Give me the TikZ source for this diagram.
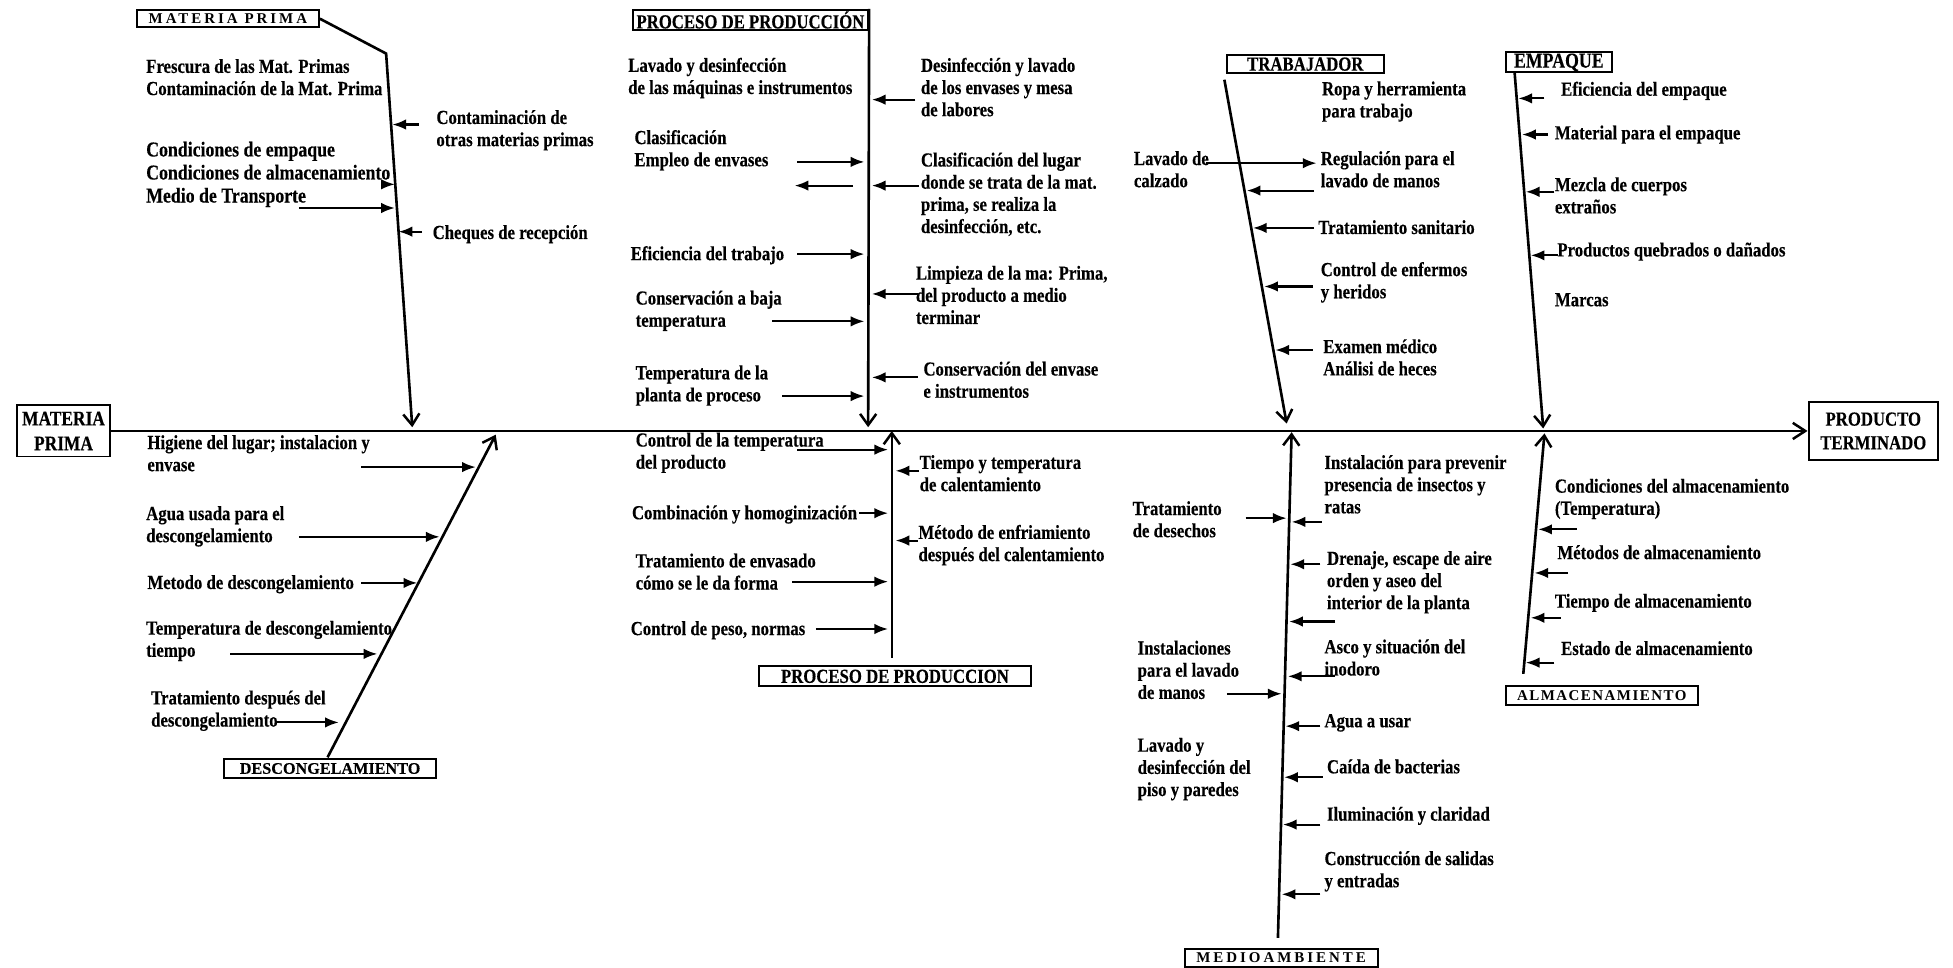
\documentclass[tikz,border=0pt]{standalone}
\usepackage{fontspec}
\newfontfamily\lf[FakeStretch=0.84, BoldFeatures={FakeBold=0.3}]{Liberation Serif}
\newfontfamily\nf[BoldFeatures={FakeBold=0.3}]{Liberation Serif}
\newfontfamily\lsf[LetterSpace=20]{Liberation Serif}
\newfontfamily\lsfb[LetterSpace=10]{Liberation Serif}
\usetikzlibrary{arrows.meta}
\begin{document}
\begin{tikzpicture}[x=0.5pt,y=-0.5pt,
  lbl/.style={anchor=north west, inner sep=0pt, align=left, yshift=4pt,
    font=\lf\bfseries\fontsize{8}{8.9}\selectfont, execute at begin node=\strut},
  biglbl/.style={lbl, yshift=4.3pt, font=\lf\bfseries\fontsize{8.5}{9.25}\selectfont},
  box/.style={draw, line width=0.8pt, inner sep=0pt, align=center},
  boxfont/.style={font=\lf\bfseries\fontsize{8}{9.5}\selectfont},
  spfont/.style={font=\lsf\bfseries\fontsize{6}{6.5}\selectfont},
  arr/.style={line width=0.85pt, -{Latex[length=5.5pt,width=4.2pt]}},
  bone/.style={line width=1.05pt, -{Straight Barb[length=4.5pt,width=6.5pt,line width=1pt]}},
  spine/.style={line width=1.05pt, -{Straight Barb[length=5pt,width=6.5pt,line width=1pt]}}
]
\useasboundingbox (0,0) rectangle (1568,777);

% ---------- main spine ----------
\node[box, font=\lf\bfseries\fontsize{8.3}{10}\selectfont, minimum width=37pt, minimum height=20.5pt] (mpL) at (51,346) {MATERIA\\PRIMA};
\node[box, boxfont, minimum width=52pt, minimum height=23pt] (pt) at (1504,346) {PRODUCTO\\TERMINADO};
\draw[spine] (mpL.east) -- (pt.west);

% ---------- MATERIA PRIMA (top) ----------
\node[box, spfont, minimum width=73pt, minimum height=7pt] (mpT) at (183,15) {MATERIA PRIMA};
\coordinate (b1k) at (310,43);
\coordinate (b1t) at (331,343);
\draw[bone] (mpT.east) -- (b1k) -- (b1t);
\node[lbl] (t11) at (117,55) {Frescura de las Mat. Primas\\Contaminación de la Mat. Prima};
\node[biglbl] (t12) at (117,130) {Condiciones de empaque\\Condiciones de almacenamiento\\Medio de Transporte};
\node[lbl] (t13) at (350,96) {Contaminación de\\otras materias primas};
\node[lbl] (t14) at (347,187) {Cheques de recepción};
\coordinate (a11s) at (308,148); \coordinate (a11e) at (317,148);
\coordinate (a12s) at (240,167); \coordinate (a12e) at (317,167);
\coordinate (a13s) at (336,100); \coordinate (a13e) at (315,100);
\coordinate (a14s) at (339,186); \coordinate (a14e) at (320,186);
\draw[arr] (a11s) -- (a11e);
\draw[arr] (a12s) -- (a12e);
\draw[arr] (a13s) -- (a13e);
\draw[arr] (a14s) -- (a14e);

% ---------- PROCESO DE PRODUCCION (top) ----------
\node[box, boxfont, minimum width=94.5pt, minimum height=8pt] (ppT) at (602.5,16) {PROCESO DE PRODUCCIÓN};
\coordinate (b2t) at (697,343);
\draw[bone] (ppT.north east) -- (b2t);
\node[lbl] (t21) at (504,54) {Lavado y desinfección\\de las máquinas e instrumentos};
\node[lbl] (t22) at (509,112) {Clasificación\\Empleo de envases};
\node[lbl] (t23) at (506,204) {Eficiencia del trabajo};
\node[lbl] (t24) at (510,241) {Conservación a baja\\temperatura};
\node[lbl] (t25) at (510,301) {Temperatura de la\\planta de proceso};
\node[lbl] (t26) at (739,54) {Desinfección y lavado\\de los envases y mesa\\de labores};
\node[lbl] (t27) at (739,130) {Clasificación del lugar\\donde se trata de la mat.\\prima, se realiza la\\desinfección, etc.};
\node[lbl] (t28) at (735,221) {Limpieza de la ma: Prima,\\del producto a medio\\terminar};
\node[lbl] (t29) at (741,298) {Conservación del envase\\e instrumentos};
\coordinate (a21s) at (640,130); \coordinate (a21e) at (694,130);
\coordinate (a22s) at (685,149); \coordinate (a22e) at (638,149);
\coordinate (a23s) at (640,204); \coordinate (a23e) at (694,204);
\coordinate (a24s) at (620,258); \coordinate (a24e) at (694,258);
\coordinate (a25s) at (628,318); \coordinate (a25e) at (694,318);
\coordinate (a26s) at (735,80);  \coordinate (a26e) at (700,80);
\coordinate (a27s) at (738,149); \coordinate (a27e) at (700,149);
\coordinate (a28s) at (737,236); \coordinate (a28e) at (700,236);
\coordinate (a29s) at (737,303); \coordinate (a29e) at (700,303);
\foreach \i in {21,...,29} {\draw[arr] (a\i s) -- (a\i e);}

% ---------- TRABAJADOR ----------
\node[box, boxfont, minimum width=63pt, minimum height=7.5pt] (trab) at (1048,51.5) {TRABAJADOR};
\coordinate (b3s) at (983,64);
\coordinate (b3t) at (1033,340);
\draw[bone] (b3s) -- (b3t);
\node[lbl] (t31) at (1061,73) {Ropa y herramienta\\para trabajo};
\node[lbl] (t32) at (910,129) {Lavado de\\calzado};
\node[lbl] (t33) at (1060,129) {Regulación para el\\lavado de manos};
\node[lbl] (t34) at (1058,183) {Tratamiento sanitario};
\node[lbl] (t35) at (1060,218) {Control de enfermos\\y heridos};
\node[lbl] (t36) at (1062,280) {Examen médico\\Análisi de heces};
\coordinate (a31s) at (968,131);  \coordinate (a31e) at (1057,131);
\coordinate (a32s) at (1055,153); \coordinate (a32e) at (1001,153);
\coordinate (a33s) at (1055,183); \coordinate (a33e) at (1006,183);
\coordinate (a34s) at (1054,230); \coordinate (a34e) at (1015,230);
\coordinate (a35s) at (1054,281); \coordinate (a35e) at (1024,281);
\foreach \i in {31,...,35} {\draw[arr] (a\i s) -- (a\i e);}

% ---------- EMPAQUE ----------
\node[box, font=\lf\bfseries\fontsize{8.5}{9.5}\selectfont, minimum width=42.5pt, minimum height=8pt] (emp) at (1251.5,50) {EMPAQUE};
\coordinate (b4s) at (1216,58);
\coordinate (b4t) at (1239,344);
\draw[bone] (b4s) -- (b4t);
\node[lbl] (t41) at (1253,72) {Eficiencia del empaque};
\node[lbl] (t42) at (1248,107) {Material para el empaque};
\node[lbl] (t43) at (1248,150) {Mezcla de cuerpos\\extraños};
\node[lbl] (t44) at (1250,201) {Productos quebrados o dañados};
\node[lbl] (t45) at (1248,241) {Marcas};
\coordinate (a41s) at (1240,79);  \coordinate (a41e) at (1219,79);
\coordinate (a42s) at (1243,108); \coordinate (a42e) at (1222,108);
\coordinate (a43s) at (1248,154); \coordinate (a43e) at (1225,154);
\coordinate (a44s) at (1251,205); \coordinate (a44e) at (1229,205);
\foreach \i in {41,...,44} {\draw[arr] (a\i s) -- (a\i e);}

% ---------- DESCONGELAMIENTO ----------
\node[box, font=\nf\bfseries\fontsize{6.5}{7}\selectfont, minimum width=85pt, minimum height=8pt] (desc) at (265,617) {DESCONGELAMIENTO};
\coordinate (b5s) at (263,608);
\coordinate (b5t) at (398,349);
\draw[bone] (b5s) -- (b5t);
\node[lbl] (t51) at (118,357) {Higiene del lugar; instalacion y\\envase};
\node[lbl] (t52) at (117,414) {Agua usada para el\\descongelamiento};
\node[lbl] (t53) at (118,468) {Metodo de descongelamiento};
\node[lbl] (t54) at (117,506) {Temperatura de descongelamiento\\tiempo};
\node[lbl] (t55) at (121,562) {Tratamiento después del\\descongelamiento};
\coordinate (a51s) at (290,375); \coordinate (a51e) at (382,375);
\coordinate (a52s) at (240,431); \coordinate (a52e) at (353,431);
\coordinate (a53s) at (290,468); \coordinate (a53e) at (335,468);
\coordinate (a54s) at (185,525); \coordinate (a54e) at (303,525);
\coordinate (a55s) at (222,580); \coordinate (a55e) at (272,580);
\foreach \i in {51,...,55} {\draw[arr] (a\i s) -- (a\i e);}

% ---------- PROCESO DE PRODUCCION (bottom) ----------
\node[box, boxfont, minimum width=109.5pt, minimum height=8pt] (ppB) at (718.5,543) {PROCESO DE PRODUCCION};
\coordinate (b6s) at (716,528);
\coordinate (b6t) at (716,346);
\draw[bone] (b6s) -- (b6t);
\node[lbl] (t61) at (510,355) {Control de la temperatura\\del producto};
\node[lbl] (t62) at (507,412) {Combinación y homoginización};
\node[lbl] (t63) at (510,452) {Tratamiento de envasado\\cómo se le da forma};
\node[lbl] (t64) at (506,505) {Control de peso, normas};
\node[lbl] (t65) at (738,373) {Tiempo y temperatura\\de calentamiento};
\node[lbl] (t66) at (737,429) {Método de enfriamiento\\después del calentamiento};
\coordinate (a61s) at (640,361); \coordinate (a61e) at (713,361);
\coordinate (a62s) at (690,412); \coordinate (a62e) at (713,412);
\coordinate (a63s) at (636,467); \coordinate (a63e) at (713,467);
\coordinate (a64s) at (655,505); \coordinate (a64e) at (713,505);
\coordinate (a65s) at (738,378); \coordinate (a65e) at (719,378);
\coordinate (a66s) at (737,434); \coordinate (a66e) at (719,434);
\foreach \i in {61,...,66} {\draw[arr] (a\i s) -- (a\i e);}

% ---------- MEDIOAMBIENTE ----------
\node[box, spfont, minimum width=77.5pt, minimum height=7pt] (med) at (1028.5,769) {MEDIOAMBIENTE};
\coordinate (b7s) at (1026,753);
\coordinate (b7t) at (1037,347);
\draw[bone] (b7s) -- (b7t);
\node[lbl] (t71) at (1063,373) {Instalación para prevenir\\presencia de insectos y\\ratas};
\node[lbl] (t72) at (909,410) {Tratamiento\\de desechos};
\node[lbl] (t73) at (1065,450) {Drenaje, escape de aire\\orden y aseo del\\interior de la planta};
\node[lbl] (t74) at (1063,521) {Asco y situación del\\inodoro};
\node[lbl] (t75) at (913,522) {Instalaciones\\para el lavado\\de manos};
\node[lbl] (t76) at (1063,579) {Agua a usar};
\node[lbl] (t77) at (913,600) {Lavado y\\desinfección del\\piso y paredes};
\node[lbl] (t78) at (1065,616) {Caída de bacterias};
\node[lbl] (t79) at (1065,654) {Iluminación y claridad};
\node[lbl] (t70) at (1063,691) {Construcción de salidas\\y entradas};
\coordinate (a71s) at (1000,416); \coordinate (a71e) at (1033,416);
\coordinate (a72s) at (1061,419); \coordinate (a72e) at (1037,419);
\coordinate (a73s) at (1060,453); \coordinate (a73e) at (1036,453);
\coordinate (a74s) at (1072,499); \coordinate (a74e) at (1035,499);
\coordinate (a75s) at (1072,543); \coordinate (a75e) at (1034,543);
\coordinate (a76s) at (985,557);  \coordinate (a76e) at (1029,557);
\coordinate (a77s) at (1060,583); \coordinate (a77e) at (1032,583);
\coordinate (a78s) at (1062,624); \coordinate (a78e) at (1031,624);
\coordinate (a79s) at (1060,662); \coordinate (a79e) at (1030,662);
\coordinate (a70s) at (1060,718); \coordinate (a70e) at (1029,718);
\foreach \i in {70,...,79} {\draw[arr] (a\i s) -- (a\i e);}

% ---------- ALMACENAMIENTO ----------
\node[box, font=\lsfb\bfseries\fontsize{6}{6.5}\selectfont, minimum width=77pt, minimum height=7.5pt] (alm) at (1286,558.5) {ALMACENAMIENTO};
\coordinate (b8s) at (1223,541);
\coordinate (b8t) at (1240,348);
\draw[bone] (b8s) -- (b8t);
\node[lbl] (t81) at (1248,392) {Condiciones del almacenamiento\\(Temperatura)};
\node[lbl] (t82) at (1250,444) {Métodos de almacenamiento};
\node[lbl] (t83) at (1248,483) {Tiempo de almacenamiento};
\node[lbl] (t84) at (1253,521) {Estado de almacenamiento};
\coordinate (a81s) at (1266,425); \coordinate (a81e) at (1235,425);
\coordinate (a82s) at (1259,460); \coordinate (a82e) at (1232,460);
\coordinate (a83s) at (1253,496); \coordinate (a83e) at (1229,496);
\coordinate (a84s) at (1248,532); \coordinate (a84e) at (1225,532);
\foreach \i in {81,...,84} {\draw[arr] (a\i s) -- (a\i e);}
\end{tikzpicture}
\end{document}
